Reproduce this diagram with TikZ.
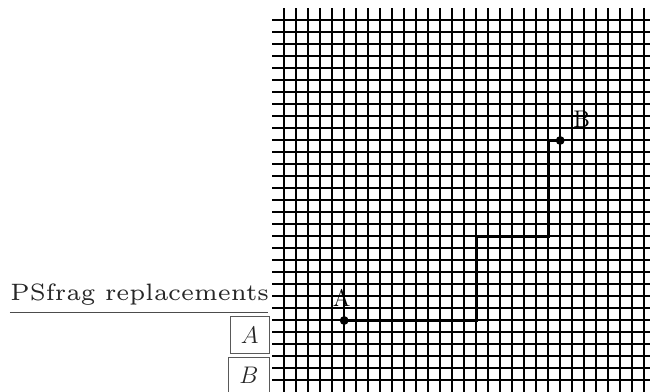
\documentclass[tikz,border=0pt]{standalone}
\usetikzlibrary{calc}
\font\psffont=cmr6 at 11.85pt
\tikzset{
  gridline/.style={line width=1pt, black},
  route/.style={line width=1.5pt, black},
  ptdot/.style={circle, fill=black, inner sep=0pt, minimum size=4.4pt},
  ptlabel/.style={anchor=base, inner sep=0pt, font=\fontsize{12}{14}\selectfont},
  psftext/.style={text=black!85, inner sep=0pt, font=\psffont},
  repbox/.style={draw=black!65, line width=0.5pt, text=black!85, inner sep=0pt, font=\fontsize{13}{15}\selectfont}
}
\begin{document}
\begin{tikzpicture}[x=6pt,y=6pt]
\clip (-23.683,-0.958) rectangle (30.483,31.708);
% grid
\foreach \i in {0,...,30} {
  \draw[gridline] (\i,-1.5) -- (\i,31);
  \draw[gridline] (-1,\i) -- (31.5,\i);
}
% route
\coordinate (A) at (5,5);
\coordinate (B) at (23,20);
\draw[route] (A) -- (16,5) |- (22,12) |- (B);
\node[ptdot] (dA) at (A) {};
\node[ptdot] (dB) at (B) {};
\node[ptlabel] (lA) at (4.79,6.13) {A};
\node[ptlabel] (lB) at (24.8,21.07) {B};
% psfrag replacements
\node[psftext, anchor=base west] (psf) at (-22.85,6.625) {PSfrag replacements};
\coordinate (ul1) at (-22.85,5.68);
\coordinate (ul2) at (-1.31,5.68);
\draw[black!70, line width=0.7pt] (ul1) -- (ul2);
\node[repbox, minimum width=19.6pt, minimum height=18.3pt] (rA) at (-2.88,3.79) {$A$};
\node[repbox, minimum width=20.5pt, minimum height=18.3pt, anchor=north] (rB) at (-2.95,1.98) {$B$};
\end{tikzpicture}
\end{document}
